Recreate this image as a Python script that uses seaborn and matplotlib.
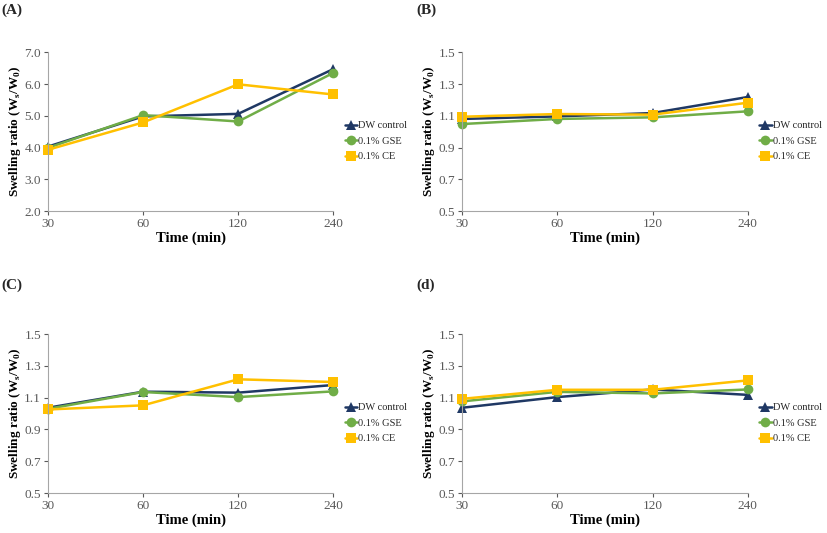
"""
Swelling ratio over time, four panels
"""

import pandas as pd
import matplotlib.pyplot as plt
import seaborn as sns

times = ["30", "60", "120", "240"]
series = ["DW control", "0.1% GSE", "0.1% CE"]

a_dw = [4.03, 4.98, 5.06, 6.47]
a_gse = [3.99, 5.02, 4.82, 6.35]
a_ce = [3.93, 4.79, 5.99, 5.67]

b_dw = [1.08, 1.096, 1.117, 1.218]
b_gse = [1.048, 1.08, 1.09, 1.128]
b_ce = [1.094, 1.111, 1.107, 1.182]

c_dw = [1.037, 1.138, 1.132, 1.18]
c_gse = [1.03, 1.136, 1.104, 1.14]
c_ce = [1.026, 1.052, 1.216, 1.199]

d_dw = [1.037, 1.104, 1.152, 1.118]
d_gse = [1.077, 1.137, 1.127, 1.152]
d_ce = [1.093, 1.15, 1.15, 1.209]

panels = [
    ("(A)", [a_dw, a_gse, a_ce], (2.0, 7.0), [2.0, 3.0, 4.0, 5.0, 6.0, 7.0]),
    ("(B)", [b_dw, b_gse, b_ce], (0.5, 1.5), [0.5, 0.7, 0.9, 1.1, 1.3, 1.5]),
    ("(C)", [c_dw, c_gse, c_ce], (0.5, 1.5), [0.5, 0.7, 0.9, 1.1, 1.3, 1.5]),
    ("(d)", [d_dw, d_gse, d_ce], (0.5, 1.5), [0.5, 0.7, 0.9, 1.1, 1.3, 1.5]),
]

palette = {"DW control": "#1F3864", "0.1% GSE": "#70AD47", "0.1% CE": "#FFC000"}
markers = {"DW control": "^", "0.1% GSE": "o", "0.1% CE": "s"}

sns.set_theme(style="ticks")
plt.rcParams["font.family"] = ["Liberation Serif", "DejaVu Serif"]
plt.rcParams["mathtext.fontset"] = "custom"
plt.rcParams["mathtext.rm"] = "Liberation Serif"
plt.rcParams["mathtext.bf"] = "Liberation Serif:bold"

fig = plt.figure(figsize=(8.27, 5.33), dpi=100)
boxes = [
    (0.058, 0.604, 0.345, 0.298),
    (0.559, 0.604, 0.345, 0.298),
    (0.058, 0.075, 0.345, 0.298),
    (0.559, 0.075, 0.345, 0.298),
]
label_pos = [(0.002, 0.993), (0.503, 0.993), (0.002, 0.478), (0.503, 0.478)]
grey = "#595959"

for (tag, vals, ylim, yticks), box, lp in zip(panels, boxes, label_pos):
    ax = fig.add_axes(box)
    rows = []
    for name, v in zip(series, vals):
        for i, t in enumerate(times):
            rows.append({"pos": i, "Time": t, "ratio": v[i], "Series": name})
    df = pd.DataFrame(rows)
    sns.lineplot(
        df, x="pos", y="ratio", hue="Series", style="Series",
        palette=palette, markers=markers, dashes=False,
        linewidth=1.8, markersize=7, markeredgewidth=0,
        ax=ax, clip_on=False,
    )
    ax.set_xlim(0, 3)
    ax.set_ylim(*ylim)
    ax.set_xticks(range(len(times)))
    ax.set_xticklabels(times)
    ax.set_yticks(yticks)
    ax.set_yticklabels([f"{t:.1f}" for t in yticks])
    ax.tick_params(colors=grey, labelsize=9.5, length=3, width=0.8,
                   labelcolor=grey, pad=2)
    for s in ["top", "right"]:
        ax.spines[s].set_visible(False)
    for s in ["left", "bottom"]:
        ax.spines[s].set_color("#a6a6a6")
        ax.spines[s].set_linewidth(0.8)
    ax.set_xlabel("Time (min)", fontsize=10.5, fontweight="bold", color="black",
                  labelpad=1)
    ax.set_ylabel(r"Swelling ratio (W$_\mathbf{s}$/W$_\mathbf{0}$)",
                  fontsize=9.5, fontweight="bold", color="black", labelpad=1)
    ax.legend(loc="center left", bbox_to_anchor=(1.04, 0.44), frameon=False,
              fontsize=7.5, handlelength=1.2, handletextpad=0.1, labelspacing=0.6,
              borderaxespad=0, borderpad=0, title=None)
    fig.text(lp[0], lp[1], tag, fontsize=11, fontweight="bold", va="top", ha="left")

plt.savefig("out.png", dpi=100)
